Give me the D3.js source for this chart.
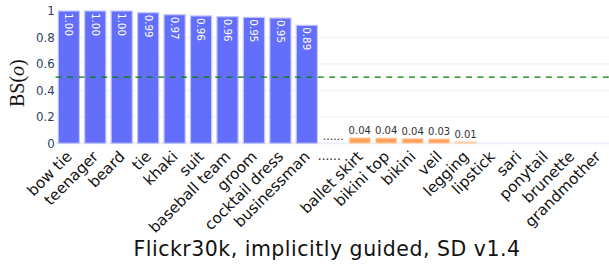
<!DOCTYPE html>
<html>
<head>
<meta charset="utf-8">
<script src="https://cdn.jsdelivr.net/npm/d3@7"></script>
<style>
  body { margin: 0; background: #fff; }
  svg { display: block; font-family: "DejaVu Sans", Verdana, sans-serif; }
</style>
</head>
<body>
<div id="chart"></div>
<script>
// concepts, highest BS first, then a gap, then the lowest ones
const categories = ["bow tie", "teenager", "beard", "tie", "khaki", "suit", "baseball team", "groom",
  "cocktail dress", "businessman", "......", "ballet skirt", "bikini top", "bikini", "veil", "legging",
  "lipstick", "sari", "ponytail", "brunette", "grandmother"];
const topValues = [1.0, 1.0, 1.0, 0.987, 0.972, 0.963, 0.957, 0.952, 0.947, 0.892];
const bottomValues = [0.041, 0.040, 0.036, 0.033, 0.011, 0, 0, 0, 0, 0];
const yTicks = [0, 0.2, 0.4, 0.6, 0.8, 1];
const threshold = 0.5;

const width = 609, height = 266;
const margin = { top: 11, right: -2, bottom: 123, left: 55.6 };

const rows = [];
topValues.forEach((v, i) => rows.push({ name: categories[i], value: v, group: "top" }));
rows.push({ name: categories[10], value: null, group: "gap" });
bottomValues.forEach((v, i) => rows.push({ name: categories[11 + i], value: v, group: "bottom" }));

const svg = d3.select("#chart").append("svg")
  .attr("width", width)
  .attr("height", height);

const x = d3.scaleBand()
  .domain(categories)
  .range([margin.left, width - margin.right])
  .paddingInner(0.2)
  .paddingOuter(0.1);

const y = d3.scaleLinear()
  .domain([0, 1])
  .range([height - margin.bottom + 0.3, margin.top]);

// grid
svg.append("g")
  .selectAll("line")
  .data(yTicks.filter(t => t > 0 && t < 1))
  .join("line")
  .attr("x1", margin.left)
  .attr("x2", width)
  .attr("y1", d => y(d))
  .attr("y2", d => y(d))
  .attr("stroke", "#ebf0f8")
  .attr("stroke-width", 1);

svg.append("line")
  .attr("x1", margin.left)
  .attr("x2", width)
  .attr("y1", y(0))
  .attr("y2", y(0))
  .attr("stroke", "#ebf0f8")
  .attr("stroke-width", 2);

// y axis labels
const yAxis = d3.axisLeft(y)
  .tickValues(yTicks)
  .tickSize(0)
  .tickPadding(0)
  .tickFormat(d3.format("~g"));

svg.append("g")
  .attr("transform", `translate(${margin.left - 0.8},0)`)
  .call(yAxis)
  .call(g => g.select(".domain").remove())
  .selectAll("text")
  .attr("font-family", "DejaVu Sans, Verdana, sans-serif")
  .attr("font-size", 11.8)
  .attr("fill", "#2a3f5f");

// bars
const color = { top: "#636efa", bottom: "#ffa15a" };
const edge = { top: "#c3c7fd", bottom: "#ffdcc2" };

svg.append("g")
  .selectAll("rect")
  .data(rows.filter(d => d.value !== null))
  .join("rect")
  .attr("x", d => x(d.name))
  .attr("width", x.bandwidth())
  .attr("y", d => y(d.value))
  .attr("height", d => y(0) - y(d.value))
  .attr("fill", d => color[d.group])
  .attr("stroke", d => edge[d.group])
  .attr("stroke-width", 1.2);

const fmt = d3.format(".2f");

// labels inside the tall bars, turned
svg.append("g")
  .selectAll("text")
  .data(rows.filter(d => d.group === "top"))
  .join("text")
  .attr("transform", d => `translate(${x(d.name) + x.bandwidth() / 2},${y(d.value) + 2}) rotate(90)`)
  .attr("dy", "0.35em")
  .attr("fill", "#fff")
  .attr("font-size", 10.3)
  .text(d => fmt(d.value));

// labels above the small bars
svg.append("g")
  .selectAll("text")
  .data(rows.filter(d => d.group === "bottom" && d.value >= 0.005))
  .join("text")
  .attr("x", d => x(d.name) + x.bandwidth() / 2)
  .attr("y", d => y(d.value) - 4)
  .attr("text-anchor", "middle")
  .attr("fill", "#333")
  .attr("font-size", 10)
  .text(d => fmt(d.value));

// gap marker in the plot
svg.append("text")
  .attr("x", x("......") + x.bandwidth() / 2)
  .attr("y", y(0) - 3)
  .attr("text-anchor", "middle")
  .attr("fill", "#222")
  .attr("font-size", 11)
  .text("......");

// threshold
svg.append("line")
  .attr("x1", margin.left)
  .attr("x2", width)
  .attr("y1", y(threshold))
  .attr("y2", y(threshold))
  .attr("stroke", "#008000")
  .attr("stroke-width", 1.3)
  .attr("stroke-dasharray", "6,5.4");

// x labels
const xl = svg.append("g")
  .selectAll("text")
  .data(rows)
  .join("text")
  .attr("font-size", 15.2)
  .attr("fill", "#111")
  .text(d => d.name);

xl.filter(d => d.group !== "gap")
  .attr("text-anchor", "end")
  .attr("transform", d => `translate(${x(d.name) + x.bandwidth() / 2 + 4},157.5) rotate(-45)`);

xl.filter(d => d.group === "gap")
  .attr("text-anchor", "middle")
  .attr("font-size", 12)
  .attr("x", d => x(d.name) + x.bandwidth() / 2 - 4)
  .attr("y", 160);

// axis titles
svg.append("text")
  .attr("transform", `translate(24,${y(0.5) + 6}) rotate(-90)`)
  .attr("text-anchor", "middle")
  .attr("font-family", "Liberation Serif, Times New Roman, serif")
  .attr("font-size", 20)
  .attr("fill", "#111")
  .call(t => {
    t.append("tspan").text("BS(");
    t.append("tspan").attr("font-style", "italic").text("o");
    t.append("tspan").text(")");
  });

svg.append("text")
  .attr("x", 327)
  .attr("y", 256)
  .attr("text-anchor", "middle")
  .attr("font-size", 20.5)
  .attr("letter-spacing", 0.5)
  .attr("fill", "#111")
  .text("Flickr30k, implicitly guided, SD v1.4");
</script>
</body>
</html>
